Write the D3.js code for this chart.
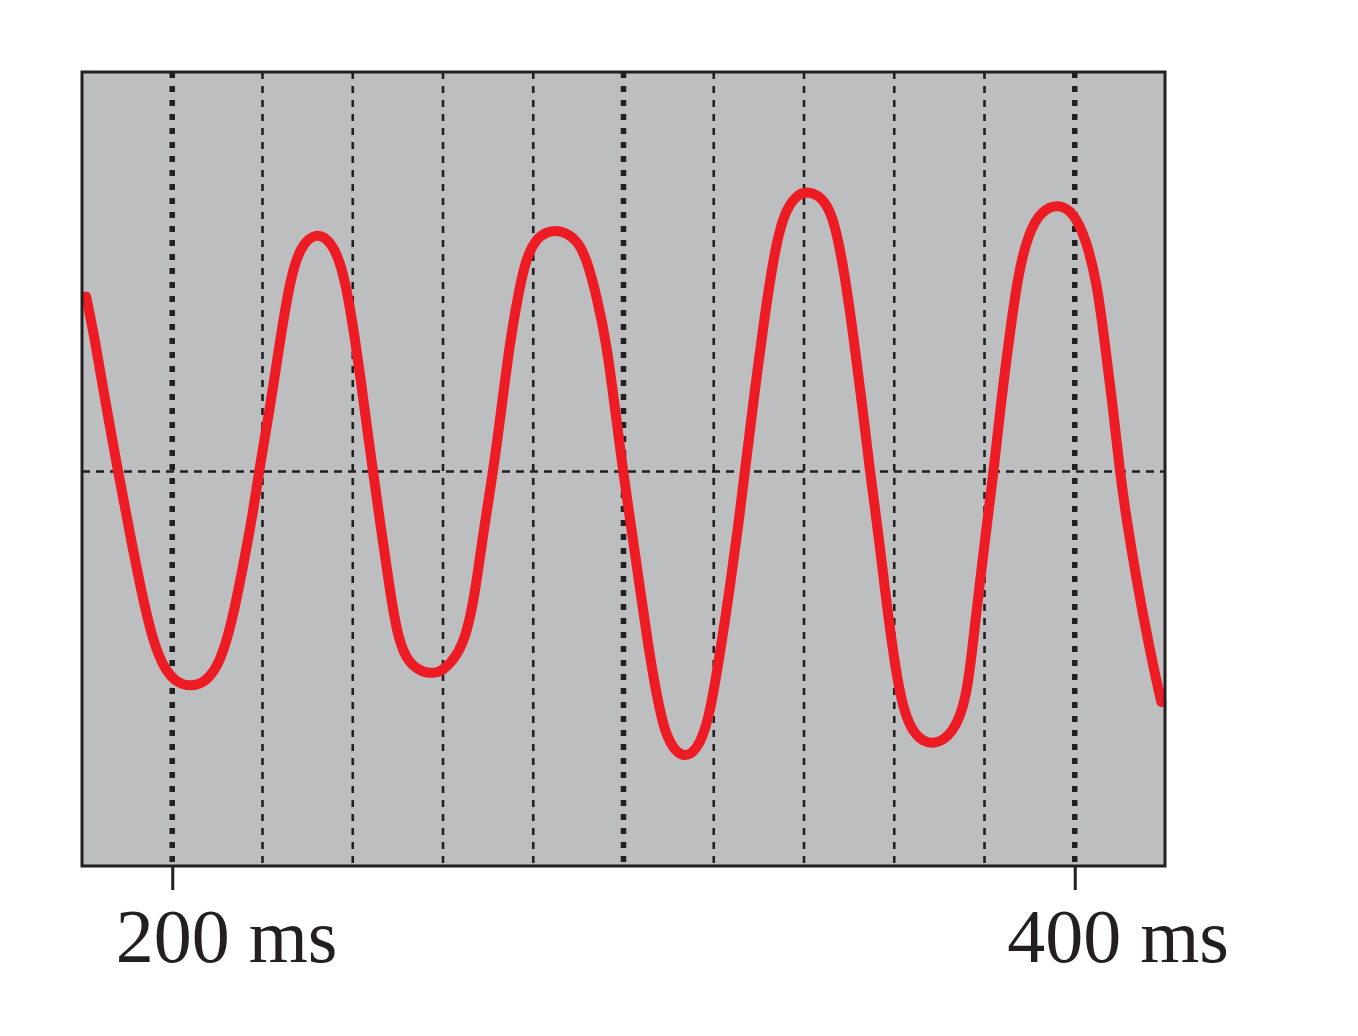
<!DOCTYPE html>
<html>
<head>
<meta charset="utf-8">
<script src="https://cdn.jsdelivr.net/npm/d3@7"></script>
<style>
  html, body { margin: 0; padding: 0; background: #ffffff; }
  svg { display: block; }
</style>
</head>
<body>
<svg id="chart" width="1358" height="1036"></svg>
<script>
// ---- data ----
const timeMs = [180.9,182.9,185.1,188.0,190.6,193.2,195.8,198.4,201.0,204.3,207.6,210.6,213.2,215.7,218.0,219.2,221.7,223.9,226.1,228.3,231.9,235.3,237.6,239.4,241.6,243.8,246.4,248.3,250.1,252.3,255.6,258.2,260.1,263.0,265.3,267.1,268.9,271.1,273.0,274.8,276.7,278.5,280.8,283.0,285.9,289.6,291.8,294.1,296.3,298.1,299.9,301.8,303.7,305.5,307.4,309.2,311.4,314.1,317.0,319.2,321.4,323.6,325.4,326.9,328.8,331.0,333.2,335.4,338.4,341.3,344.7,346.9,349.1,350.9,352.8,354.6,356.5,358.3,360.2,362.0,364.6,368.7,373.1,376.1,377.9,380.1,382.0,383.8,385.7,387.5,389.7,392.7,396.4,399.7,402.6,404.9,406.3,408.2,410.0,411.5,413.7,415.9,418.2,419.2];
const signal = [43.8,32.9,17.9,-0.1,-15.4,-30.4,-42.9,-49.7,-52.9,-53.9,-52.6,-47.9,-37.9,-23.8,-9.6,-0.1,16.2,32.9,47.9,56.3,60.0,57.5,51.3,41.3,24.7,5.4,-15.4,-30.4,-42.2,-47.9,-50.4,-50.5,-49.7,-46.4,-40.5,-30.5,-15.5,-0.2,16.2,32.1,44.6,53.8,58.4,60.0,60.5,58.2,53.4,43.7,31.7,15.9,0.0,-14.6,-29.7,-43.9,-56.4,-65.5,-70.1,-71.7,-68.5,-60.5,-45.4,-28.9,-13.8,0.0,17.6,36.7,53.4,64.5,69.5,70.2,68.0,62.0,48.9,34.2,17.6,0.0,-15.6,-33.2,-48.9,-59.9,-66.5,-68.8,-65.6,-57.2,-38.0,-17.1,-0.2,18.7,35.4,49.6,59.6,65.5,67.0,65.0,57.9,47.1,35.4,18.7,-0.2,-12.1,-27.2,-40.5,-53.0,-57.7];
const timeDomain = [180, 420];
const valueDomain = [-100, 100];
const gridTimes = [200, 220, 240, 260, 280, 300, 320, 340, 360, 380, 400];
const majorTimes = [200, 300, 400];
const tickTimes = [200, 400];
const tickUnit = "ms";

// ---- layout ----
const margin = { left: 82, top: 72 };
const plotW = 1083, plotH = 794;
const ink = "#231f20";
const labelShift = { 200: -57, 400: -68 };

const svg = d3.select("#chart");
const g = svg.append("g").attr("transform", `translate(${margin.left},${margin.top})`);

const x = d3.scaleLinear().domain(timeDomain).range([0, plotW]);
const y = d3.scaleLinear().domain(valueDomain).range([799, 0]);

// background
g.append("rect")
  .attr("x", 0).attr("y", 0)
  .attr("width", plotW).attr("height", plotH)
  .attr("fill", "#bcbec0");

// vertical grid lines
g.selectAll("line.grid")
  .data(gridTimes)
  .join("line")
  .attr("class", "grid")
  .attr("x1", d => x(d)).attr("x2", d => x(d))
  .attr("y1", 0).attr("y2", plotH)
  .attr("stroke", ink)
  .attr("stroke-width", d => majorTimes.includes(d) ? 5.5 : 2.6)
  .attr("stroke-dasharray", d => majorTimes.includes(d) ? "6,8" : "7,7");

// horizontal zero line
g.append("line")
  .attr("x1", 0).attr("x2", plotW)
  .attr("y1", y(0)).attr("y2", y(0))
  .attr("stroke", ink)
  .attr("stroke-width", 2.6)
  .attr("stroke-dasharray", "8,6");

// waveform
const pts = timeMs.map((t, i) => [t, signal[i]]);
const line = d3.line()
  .x(d => x(d[0]))
  .y(d => y(d[1]))
  .curve(d3.curveBasis);

g.append("path")
  .datum(pts)
  .attr("d", line)
  .attr("fill", "none")
  .attr("stroke", "#ed1c24")
  .attr("stroke-width", 10)
  .attr("stroke-linecap", "round")
  .attr("stroke-linejoin", "round");

// frame
g.append("rect")
  .attr("x", 0).attr("y", 0)
  .attr("width", plotW).attr("height", plotH)
  .attr("fill", "none")
  .attr("stroke", ink)
  .attr("stroke-width", 3);

// axis
const axis = d3.axisBottom(x)
  .tickValues(tickTimes)
  .tickSize(24)
  .tickFormat(d => `${d} ${tickUnit}`);

const ax = g.append("g")
  .attr("transform", `translate(0,${plotH})`)
  .call(axis);
ax.select(".domain").remove();
ax.selectAll(".tick line").attr("stroke", ink).attr("stroke-width", 3);
ax.selectAll(".tick text")
  .attr("fill", ink)
  .attr("font-family", "'Liberation Serif', 'Times New Roman', serif")
  .attr("font-size", 76)
  .attr("text-anchor", "start")
  .attr("x", d => labelShift[d])
  .attr("y", 96)
  .attr("dy", 0);
</script>
</body>
</html>
